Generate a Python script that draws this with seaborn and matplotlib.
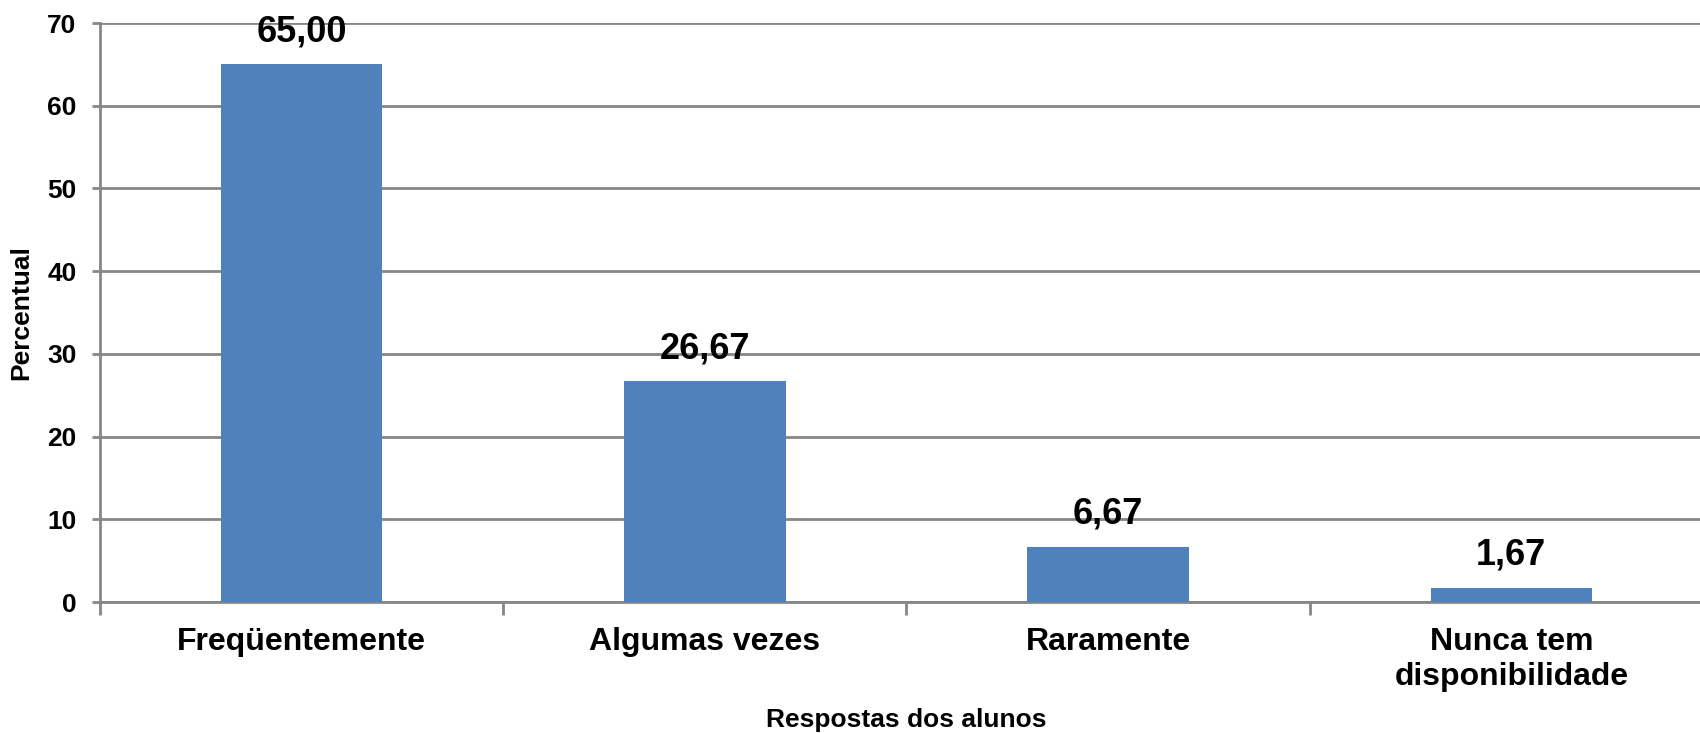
import matplotlib
matplotlib.use("Agg")
import matplotlib.pyplot as plt
import seaborn as sns
import pandas as pd
from matplotlib.ticker import FixedLocator

categories = ["Freqüentemente", "Algumas vezes", "Raramente", "Nunca tem\ndisponibilidade"]
values = [65.00, 26.67, 6.67, 1.67]
value_labels = ["65,00", "26,67", "6,67", "1,67"]
yticks = [0, 10, 20, 30, 40, 50, 60, 70]

sns.set_theme(style="white")
plt.rcParams['font.family'] = ['Liberation Sans', 'DejaVu Sans']
plt.rcParams['text.color'] = 'black'
plt.rcParams['axes.labelcolor'] = 'black'
plt.rcParams['xtick.labelcolor'] = 'black'
plt.rcParams['ytick.labelcolor'] = 'black'

df = pd.DataFrame({"cat": categories, "val": values})

fig = plt.figure(figsize=(17, 7.33), dpi=100)
ax = fig.add_axes([100/1700, (733-602)/733, 1613/1700, (602-23)/733])

sns.barplot(data=df, x="cat", y="val", color="#4F81BD", width=0.4, ax=ax,
            saturation=1, edgecolor="none", zorder=3)

ax.set_ylim(0, 70)
ax.set_xlim(-0.5, 3.5)
ax.set_yticks(yticks)
ax.yaxis.grid(True, color="#868686", linewidth=2, zorder=0)
ax.set_axisbelow(True)

for s in ["top", "right"]:
    ax.spines[s].set_visible(False)
for s in ["left", "bottom"]:
    ax.spines[s].set_color("#868686")
    ax.spines[s].set_linewidth(2)

ax.tick_params(axis="y", which="major", direction="out", length=6, width=2,
               color="#868686", labelsize=19, pad=11, left=True, labelcolor="black")
for lab in ax.get_yticklabels():
    lab.set_fontweight("bold")

ax.tick_params(axis="x", which="major", length=0, pad=18, labelsize=23, labelcolor="black")
ax.xaxis.set_minor_locator(FixedLocator([-0.5, 0.5, 1.5, 2.5, 3.5]))
ax.tick_params(axis="x", which="minor", direction="out", length=9, width=2,
               color="#868686", bottom=True)
for lab in ax.get_xticklabels():
    lab.set_fontweight("bold")
    lab.set_linespacing(1.2)

for i, (v, t) in enumerate(zip(values, value_labels)):
    ax.annotate(t, (i, v), xytext=(0, 11), textcoords="offset points",
                ha="center", va="bottom", fontsize=26, fontweight="bold", color="black")

ax.set_xlabel("Respostas dos alunos", fontsize=19, fontweight="bold", labelpad=12, color="black")
ax.set_ylabel("Percentual", fontsize=19, fontweight="bold", labelpad=10, color="black")

fig.savefig("out.png", dpi=100)
